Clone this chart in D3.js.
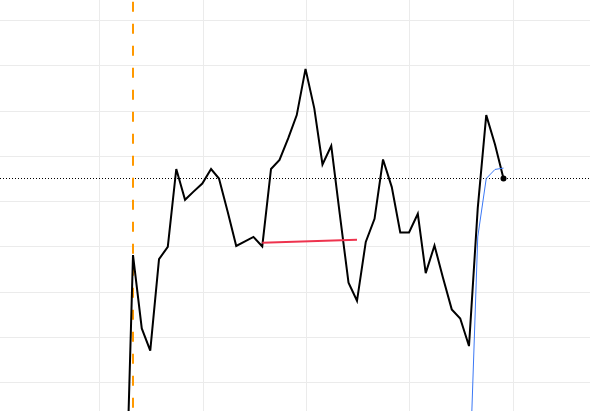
<!DOCTYPE html>
<html>
<head>
<meta charset="utf-8">
<script src="https://cdn.jsdelivr.net/npm/d3@7"></script>
<style>
  html, body { margin: 0; padding: 0; background: #fff; }
  svg { display: block; }
</style>
</head>
<body>
<div id="chart"></div>
<script>
// monthly series, first month-end is one before the marker month
const firstMonthEnd = "2014-03-31";
const priceValues = [-28.4, 38.1, 21.9, 17.0, 37.2, 39.9, 57.1, 50.3, 52.1, 53.9, 57.1, 55.0,
    47.6, 40.1, 41.1, 42.1, 40.0, 57.1, 59.1, 63.9, 69.0, 79.2, 70.5, 58.1, 62.2,
    47.2, 32.0, 28.0, 41.0, 46.1, 59.2, 53.1, 43.1, 43.1, 47.2, 34.1, 40.2, 33.1,
    26.1, 24.1, 18.0, 48.5, 69.0, 62.5, 55.0];
// blue series covers the last five months
const forecastValues = [-14.9, 42.1, 55.0, 57.0, 57.3];
// red segment: [month index, value]
const trendStart = [16, 40.8];
const trendEnd = [27, 41.5];
const markerIndex = 1;      // orange dashed line
const refLevel = 55.0;      // dotted horizontal line
const yTicks = [0, 10, 20, 30, 40, 50, 60, 70, 80, 90, 100];

const width = 590, height = 411;

const start = d3.isoParse(firstMonthEnd + "T00:00:00");
const monthEnd = i => d3.timeDay.offset(d3.timeMonth.offset(d3.timeMonth.floor(start), i + 1), -1);
const dates = priceValues.map((d, i) => monthEnd(i));
const price = priceValues.map((v, i) => ({ date: dates[i], value: v }));
const fOffset = priceValues.length - forecastValues.length;
const forecast = forecastValues.map((v, i) => ({ date: dates[fOffset + i], value: v }));

// x: the marker month and the last month set the plot span
const x = d3.scaleTime()
    .domain([dates[markerIndex], dates[dates.length - 1]])
    .range([133, 503.5]);

const y = d3.scaleLinear()
    .domain([10, 90])
    .range([382.3, 20]);

const svg = d3.select("#chart")
    .append("svg")
    .attr("width", width)
    .attr("height", height);

svg.append("defs").append("clipPath").attr("id", "clip")
    .append("rect").attr("width", width).attr("height", height);

// grid
const years = x.copy().domain([x.invert(0), x.invert(width)]).ticks(d3.timeYear.every(1));
svg.append("g")
    .selectAll("line")
    .data(years)
    .join("line")
    .attr("x1", d => Math.round(x(d)) + 0.5)
    .attr("x2", d => Math.round(x(d)) + 0.5)
    .attr("y1", 0)
    .attr("y2", height)
    .attr("stroke", "#ebebeb")
    .attr("stroke-width", 1);

svg.append("g")
    .selectAll("line")
    .data(yTicks)
    .join("line")
    .attr("x1", 0)
    .attr("x2", width)
    .attr("y1", d => Math.round(y(d)) + 0.5)
    .attr("y2", d => Math.round(y(d)) + 0.5)
    .attr("stroke", "#ebebeb")
    .attr("stroke-width", 1);

const plot = svg.append("g").attr("clip-path", "url(#clip)");

// reference level
plot.append("line")
    .attr("x1", 0)
    .attr("x2", width)
    .attr("y1", y(refLevel))
    .attr("y2", y(refLevel))
    .attr("stroke", "#000")
    .attr("stroke-width", 1)
    .attr("stroke-dasharray", "1,2");

// marker
plot.append("line")
    .attr("x1", x(dates[markerIndex]))
    .attr("x2", x(dates[markerIndex]))
    .attr("y1", 0)
    .attr("y2", height)
    .attr("stroke", "#ff9900")
    .attr("stroke-width", 2)
    .attr("stroke-dasharray", "10,12")
    .attr("stroke-dashoffset", 20.3);

const line = d3.line()
    .x(d => x(d.date))
    .y(d => y(d.value));

plot.append("path")
    .datum(price)
    .attr("fill", "none")
    .attr("stroke", "#000")
    .attr("stroke-width", 2)
    .attr("stroke-linejoin", "miter")
    .attr("d", line);

plot.append("path")
    .datum(forecast)
    .attr("fill", "none")
    .attr("stroke", "#3b78f5")
    .attr("stroke-width", 1)
    .attr("d", line);

// trend segment
plot.append("line")
    .attr("x1", x(dates[trendStart[0]]))
    .attr("y1", y(trendStart[1]))
    .attr("x2", x(dates[trendEnd[0]]))
    .attr("y2", y(trendEnd[1]))
    .attr("stroke", "#ee334e")
    .attr("stroke-width", 2);

// last point
const last = price[price.length - 1];
plot.append("circle")
    .attr("cx", x(last.date))
    .attr("cy", y(last.value))
    .attr("r", 3)
    .attr("fill", "#000");
</script>
</body>
</html>
